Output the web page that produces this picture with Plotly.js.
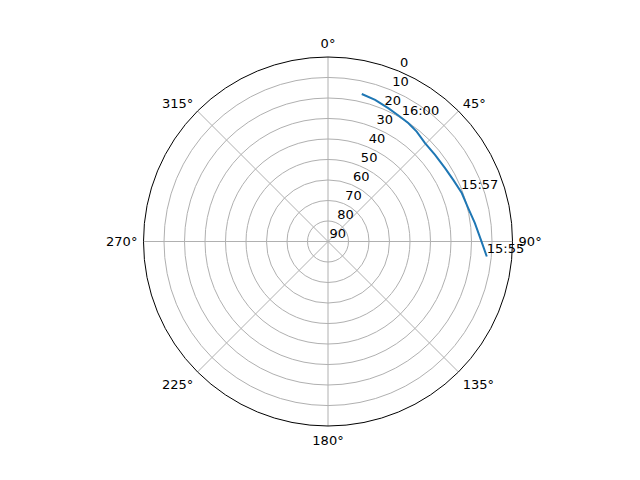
<!DOCTYPE html>
<html>
<head>
<meta charset="utf-8">
<script src="https://cdn.plot.ly/plotly-3.0.1.min.js"></script>
<style>
  html, body { margin: 0; padding: 0; background: #fff; }
  #plot { width: 640px; height: 480px; }
</style>
</head>
<body>
<div id="plot"></div>
<script>
'use strict'

// satellite track, azimuth (deg, N = 0, clockwise) and elevation (deg)
const azimuth = [95.4, 89.4, 82.9, 76.6, 70.1, 63.8, 57.9, 51.0, 44.6, 38.9, 34.1, 29.2, 24.3, 18.4, 12.9]
const elevation = [12.2, 15.4, 17.8, 19.7, 20.6, 21.9, 22.6, 22.8, 22.6, 21.1, 20.2, 19.6, 18.6, 17.2, 16.2]

// time stamps written next to the track
const stampText = ['15:55', '15:57', '16:00']
const stampAz = [95.4, 69.5, 30.8]
const stampEl = [12.2, 20.8, 19.8]

const radialTicks = [0, 10, 20, 30, 40, 50, 60, 70, 80, 90]

const FONT = {family: 'DejaVu Sans', size: 13, color: '#000'}

const track = {
  type: 'scatterpolar',
  theta: azimuth,
  r: elevation,
  mode: 'lines',
  line: {color: '#1f77b4', width: 2},
  hoverinfo: 'skip'
}

const stamps = {
  type: 'scatterpolar',
  theta: stampAz,
  r: stampEl,
  text: stampText,
  mode: 'text',
  textposition: 'top right',
  textfont: FONT,
  hoverinfo: 'skip'
}

// empty trace so the label-only overlay gets drawn
const labelHolder = {
  type: 'scatterpolar',
  theta: [],
  r: [],
  subplot: 'polar2',
  hoverinfo: 'skip'
}

const radialBase = {
  range: [90, 0],
  tickvals: radialTicks,
  ticks: '',
  showline: false,
  angle: 67.5,
  side: 'clockwise',
  tickangle: 67.5,
  tickfont: FONT
}

const layout = {
  width: 640,
  height: 480,
  margin: {l: 60, r: 44, t: 40, b: 40, pad: 0},
  paper_bgcolor: '#fff',
  showlegend: false,
  font: FONT,
  polar: {
    domain: {x: [0.0373, 0.9627], y: [0.035, 0.9575]},
    bgcolor: '#fff',
    angularaxis: {
      rotation: 90,
      direction: 'clockwise',
      dtick: 45,
      ticks: 'outside',
      ticklen: 3,
      tickcolor: 'rgba(0,0,0,0)',
      showline: true,
      linecolor: '#000',
      linewidth: 1,
      gridcolor: '#b0b0b0',
      gridwidth: 1,
      tickfont: FONT
    },
    radialaxis: Object.assign({}, radialBase, {
      showticklabels: false,
      gridcolor: '#b0b0b0',
      gridwidth: 1
    })
  },
  // same frame nudged up-left, only carries the elevation labels
  polar2: {
    domain: {x: [0.028, 0.9534], y: [0.0675, 0.99]},
    bgcolor: 'rgba(0,0,0,0)',
    angularaxis: {
      visible: false,
      rotation: 90,
      direction: 'clockwise'
    },
    radialaxis: Object.assign({}, radialBase, {
      showgrid: false
    })
  }
}

const config = {displayModeBar: false, staticPlot: true}

Plotly.newPlot('plot', [track, stamps, labelHolder], layout, config)
</script>
</body>
</html>
